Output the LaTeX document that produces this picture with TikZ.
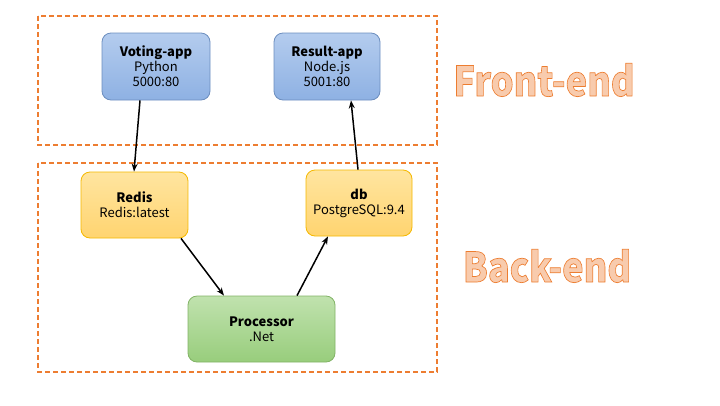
\documentclass[tikz,border=0pt]{standalone}
\usepackage{fontspec}
\setmainfont{Noto Sans CJK SC}
\usetikzlibrary{arrows.meta}
\definecolor{dashor}{HTML}{ED7D31}
\definecolor{bigfill}{HTML}{F8CBAD}
\definecolor{bluetop}{HTML}{B4CCEE}
\definecolor{bluebot}{HTML}{8EB1E3}
\definecolor{blueedge}{HTML}{6C8EBF}
\definecolor{yeltop}{HTML}{FFE5A0}
\definecolor{yelbot}{HTML}{FFD470}
\definecolor{yeledge}{HTML}{F5B800}
\definecolor{grntop}{HTML}{C0E2AE}
\definecolor{grnbot}{HTML}{98CD7C}
\definecolor{grnedge}{HTML}{82B366}
\tikzset{
  grp/.style={draw=dashor, line width=1.2pt, dash pattern=on 5pt off 3pt},
  box/.style={rounded corners=9pt, line width=0.8pt, inner sep=0pt, align=center, font=\fontsize{13}{15}\selectfont},
  bluebox/.style={box, draw=blueedge, top color=bluetop, bottom color=bluebot},
  yelbox/.style={box, draw=yeledge, top color=yeltop, bottom color=yelbot},
  grnbox/.style={box, draw=grnedge, top color=grntop, bottom color=grnbot},
  conn/.style={-{Stealth[length=8pt,width=6pt]}, line width=1.5pt, black},
  big/.style={font=\fontsize{41}{45}\selectfont\bfseries, text=bigfill}
}
\newcommand{\outl}[1]{\scalebox{0.88}[1]{\special{pdf:literal direct 2 Tr 0.7 w 0.93 0.49 0.19 RG}#1\special{pdf:literal direct 0 Tr 0 0 0 RG}}}
\begin{document}
\begin{tikzpicture}[x=1pt,y=-1pt]
\useasboundingbox (0,0) rectangle (720,405);
\draw[grp] (38,16) rectangle (437,145);
\draw[grp] (38,163) rectangle (437,372);
\node[bluebox, minimum width=108pt, minimum height=67pt] (vote) at (156,66.5) {\textbf{Voting-app}\\Python\\5000:80};
\node[bluebox, minimum width=106pt, minimum height=67pt] (result) at (327,66.5) {\textbf{Result-app}\\Node.js\\5001:80};
\node[yelbox, minimum width=107pt, minimum height=66pt] (redis) at (134.5,205) {\textbf{Redis}\\Redis:latest};
\node[yelbox, minimum width=106pt, minimum height=66pt] (db) at (359,203) {\textbf{db}\\PostgreSQL:9.4};
\node[grnbox, minimum width=147pt, minimum height=66pt] (proc) at (261.5,329) {\textbf{Processor}\\.Net};
\node[big] (fe) at (544,80) {\outl{Front-end}};
\node[big] (be) at (547,266) {\outl{Back-end}};
\draw[conn] (vote.south -| 140,0) -- (redis.north -| 134,0);
\draw[conn] (db.north -| 358,0) -- (result.south -| 351,0);
\draw[conn] (redis.south -| 181,0) -- (proc.north -| 224,0);
\draw[conn] (proc.north -| 297,0) -- (db.south -| 328,0);
\end{tikzpicture}
\end{document}
